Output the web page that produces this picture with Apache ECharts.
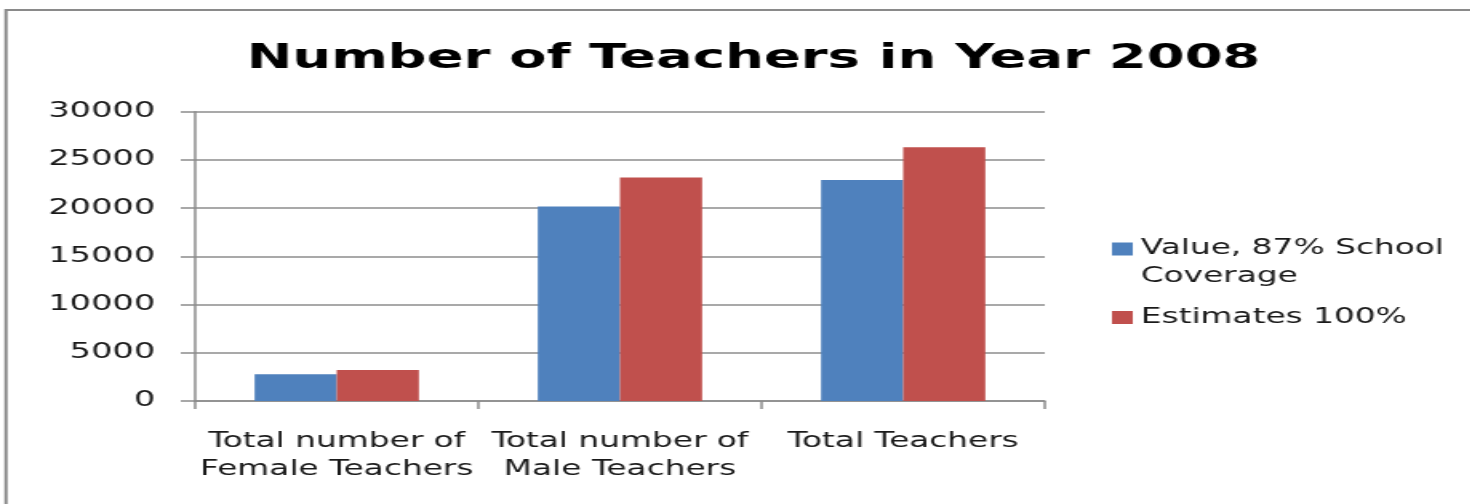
<!DOCTYPE html>
<html>
<head>
<meta charset="utf-8">
<script src="https://cdn.jsdelivr.net/npm/echarts@6/dist/echarts.min.js"></script>
<style>
  html, body { margin: 0; padding: 0; background: #ffffff; overflow: hidden; }
  #wrap { width: 1470px; height: 504px; overflow: hidden; position: relative; }
  #chart { width: 919px; height: 504px; transform: scaleX(1.6); transform-origin: 0 0; }
</style>
</head>
<body>
<div id="wrap"><div id="chart"></div></div>
<script>
const titleText = 'Number of Teachers in Year 2008';
const categories = ['Total number of\nFemale Teachers', 'Total number of\nMale Teachers', 'Total Teachers'];
const seriesNames = ['Value, 87% School\nCoverage', 'Estimates 100%'];
const valueCoverage = [2770, 20170, 22930];
const estimates100 = [3220, 23170, 26320];
const yTicks = { min: 0, max: 30000, interval: 5000 };

const chart = echarts.init(document.getElementById('chart'), null, { renderer: 'canvas' });
const gridColor = '#8c8c8c';
const textColor = '#1a1a1a';
const font = 'DejaVu Sans';

// legend icons: square at top of item (first line) / centred (single line)
const iconTop = 'path://M0,0h13v13h-13zM0,41h0.001';
const iconMid = 'path://M0,14h13v13h-13zM0,0h0.001M0,41h0.001';

chart.setOption({
  backgroundColor: '#ffffff',
  animation: false,
  graphic: [{
    type: 'rect',
    shape: { x: 3.75, y: 10, width: 2000, height: 1000 },
    style: { fill: 'none', stroke: '#8a8a8a', lineWidth: 2 },
    silent: true
  }],
  title: {
    text: titleText,
    left: 466,
    textAlign: 'center',
    top: 37,
    textStyle: { fontFamily: font, fontWeight: 'bold', fontSize: 34, color: '#000000' }
  },
  legend: {
    orient: 'vertical',
    left: 690,
    top: 230,
    itemWidth: 13,
    itemHeight: 41,
    itemGap: 6,
    textStyle: { fontFamily: font, fontSize: 20.5, color: textColor, lineHeight: 28 },
    data: [
      { name: seriesNames[0], icon: iconTop },
      { name: seriesNames[1], icon: iconMid }
    ]
  },
  grid: { left: 122, right: 266, top: 111.7, bottom: 103, containLabel: false },
  xAxis: {
    type: 'category',
    data: categories,
    axisLine: { show: true, lineStyle: { color: gridColor, width: 1.5 } },
    axisTick: { show: true, alignWithLabel: false, length: 8, lineStyle: { color: gridColor, width: 1.5 } },
    axisLabel: { fontFamily: font, fontSize: 20.5, color: textColor, lineHeight: 28, margin: 27, interval: 0 }
  },
  yAxis: {
    type: 'value',
    min: yTicks.min,
    max: yTicks.max,
    interval: yTicks.interval,
    axisLine: { show: true, lineStyle: { color: gridColor, width: 1.5 } },
    axisTick: { show: true, length: 9, lineStyle: { color: gridColor, width: 1.5 } },
    axisLabel: { fontFamily: font, fontSize: 21, color: textColor, margin: 25, formatter: v => String(v) },
    splitLine: { show: true, lineStyle: { color: gridColor, width: 1.5 } }
  },
  series: [
    {
      name: seriesNames[0],
      type: 'bar',
      data: valueCoverage,
      barGap: '0%',
      barCategoryGap: '42%',
      itemStyle: { color: '#4f81bd' }
    },
    {
      name: seriesNames[1],
      type: 'bar',
      data: estimates100,
      barGap: '0%',
      barCategoryGap: '42%',
      itemStyle: { color: '#c0504d' }
    }
  ]
});
</script>
</body>
</html>
